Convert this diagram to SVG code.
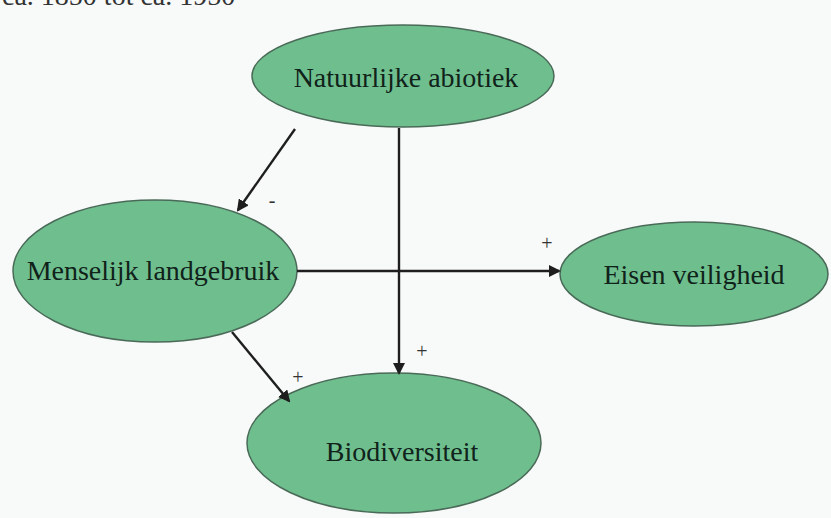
<svg xmlns="http://www.w3.org/2000/svg" width="831" height="518" viewBox="0 0 831 518">
<defs>
<marker id="ah" markerWidth="12" markerHeight="12" refX="10" refY="6" orient="auto" markerUnits="userSpaceOnUse" viewBox="0 0 12 12">
<path d="M0,0 L12,6 L0,12 Z" fill="#1e1e1e"/>
</marker>
<style>
.node{fill:#6fbf8e;stroke:#4a6a58;stroke-width:1.5}
.lbl{font-family:"Liberation Serif","Times New Roman",serif;font-size:28px;fill:#10221a;text-anchor:middle}
.sign{font-family:"Liberation Serif","Times New Roman",serif;font-size:20px;fill:#333;text-anchor:middle}
.edge{stroke:#1e1e1e;stroke-width:2.4;fill:none;marker-end:url(#ah)}
</style>
</defs>
<rect width="831" height="518" fill="#f8fafa"/>
<text x="2" y="5" font-family="Liberation Serif, serif" font-size="28" fill="#333">ca. 1850 tot ca. 1950</text>
<g id="natuurlijke-abiotiek">
<ellipse class="node" cx="403" cy="76" rx="151" ry="51"/>
<text class="lbl" x="406" y="87">Natuurlijke abiotiek</text>
</g>
<g id="menselijk-landgebruik">
<ellipse class="node" cx="155" cy="271" rx="142" ry="71"/>
<text class="lbl" x="153" y="280">Menselijk landgebruik</text>
</g>
<g id="eisen-veiligheid">
<ellipse class="node" cx="694" cy="274" rx="134" ry="52"/>
<text class="lbl" x="694" y="284">Eisen veiligheid</text>
</g>
<g id="biodiversiteit">
<ellipse class="node" cx="394" cy="443" rx="147" ry="70"/>
<text class="lbl" x="402" y="461">Biodiversiteit</text>
</g>
<g id="connectors">
<path class="edge" d="M295,129 L238,210"/>
<path class="edge" d="M399,128 L399,373"/>
<path class="edge" d="M297,271 L559,271"/>
<path class="edge" d="M232,332 L289,401"/>
<text class="sign" x="272" y="207">-</text>
<text class="sign" x="422" y="358">+</text>
<text class="sign" x="547" y="250">+</text>
<text class="sign" x="298" y="384">+</text>
</g>
</svg>
